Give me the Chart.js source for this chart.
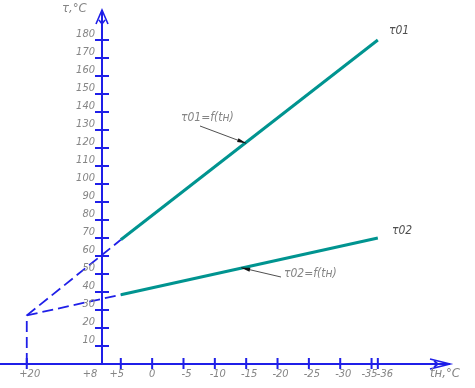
<!DOCTYPE html>
<html>
<head>
<meta charset="utf-8">
<script src="https://cdn.jsdelivr.net/npm/chart.js@4.4.1/dist/chart.umd.min.js"></script>
<style>
  html, body { margin: 0; padding: 0; background: #fff; }
  canvas { display: block; }
</style>
</head>
<body>
<canvas id="chart" width="475" height="388"></canvas>
<script>
// outdoor temperature tн, °C (points of the graph)
const tOut = [20, 5, -36];
// supply water temperature τ01 and return water τ02, °C
const tau01 = [27, 69, 180];
const tau02 = [27, 38.5, 70];
// break line at tн = +20
const breakT = [20, 20];
const breakTau = [0, 27];

// axis ticks
const xTicks = [20, 8, 5, 0, -5, -10, -15, -20, -25, -30, -35, -36];
const xLabels = ['+20', '+8', '+5', '0', '-5', '-10', '-15', '-20', '-25', '-30', '-35', '-36'];
const yTicks = [10, 20, 30, 40, 50, 60, 70, 80, 90, 100, 110, 120, 130, 140, 150, 160, 170, 180];

const BLUE = '#1f1fe8';
const TEAL = '#009490';
const GREY = '#858585';
const FONT = "italic 11px 'Liberation Sans Narrow', 'DejaVu Sans Condensed', 'Liberation Sans', sans-serif";

const pts = (xs, ys) => xs.map((x, i) => ({ x: x, y: ys[i] }));

const seg = {
  borderColor: ctx => ctx.p0DataIndex === 0 ? BLUE : TEAL,
  borderWidth: ctx => ctx.p0DataIndex === 0 ? 1.8 : 3,
  borderDash: ctx => ctx.p0DataIndex === 0 ? [11, 5] : []
};

const axesPlugin = {
  id: 'axes',
  afterDatasetsDraw(chart) {
    const c = chart.ctx;
    const xs = chart.scales.x, ys = chart.scales.y;
    const x0 = xs.getPixelForValue(8);
    const y0 = ys.getPixelForValue(0);
    c.save();
    c.strokeStyle = BLUE;
    c.lineWidth = 2;
    // axis lines
    c.beginPath();
    c.moveTo(0, y0); c.lineTo(450, y0);
    c.moveTo(x0, y0); c.lineTo(x0, 11);
    c.stroke();
    // arrow heads
    c.lineWidth = 1.6;
    c.beginPath();
    c.moveTo(x0 - 6, 24); c.lineTo(x0, 10); c.lineTo(x0 + 6, 24);
    c.moveTo(x0 - 3, 20); c.lineTo(x0, 24); c.lineTo(x0 + 3, 20);
    c.moveTo(430, y0 - 5); c.lineTo(450, y0); c.lineTo(430, y0 + 5);
    c.moveTo(434, y0 - 3); c.lineTo(438, y0); c.lineTo(434, y0 + 3);
    c.stroke();
    // ticks
    c.lineWidth = 2;
    c.beginPath();
    yTicks.forEach(v => {
      const y = ys.getPixelForValue(v);
      c.moveTo(x0 - 7, y); c.lineTo(x0 + 7, y);
    });
    xTicks.forEach(v => {
      if (v === 8) return;
      const x = xs.getPixelForValue(v);
      c.moveTo(x, y0 - 6); c.lineTo(x, y0 + 5);
    });
    c.stroke();

    // tick labels
    c.fillStyle = GREY;
    c.font = FONT;
    c.textBaseline = 'middle';
    c.textAlign = 'right';
    yTicks.forEach(v => {
      c.fillText(String(v), x0 - 7, ys.getPixelForValue(v) - 6);
    });
    xTicks.forEach((v, i) => {
      let x = xs.getPixelForValue(v);
      c.textAlign = 'center';
      if (v === 8) x -= 12;
      else if (v === 20) x += 3;
      else if (v === 5) x -= 4;
      else if (v === -35) { c.textAlign = 'right'; x += 6; }
      else if (v === -36) { c.textAlign = 'left'; x -= 1; }
      else if (v < 0) x += 3;
      c.fillText(xLabels[i], x, y0 + 10);
    });

    // axis titles
    c.font = "italic 13px 'Liberation Sans Narrow', 'DejaVu Sans Condensed', sans-serif";
    c.textAlign = 'left';
    c.fillText('τ,°C', 62, 9);
    c.fillText('tн,°C', 430, y0 + 10);

    // curve labels
    c.font = "italic 12px 'Liberation Sans Narrow', 'DejaVu Sans Condensed', sans-serif";
    c.fillStyle = '#505050';
    c.fillText('τ01', 389, 31);
    c.fillText('τ02', 392, 231);
    c.fillStyle = GREY;
    c.fillText('τ01=f(tн)', 181, 118);
    c.fillText('τ02=f(tн)', 284, 274);

    // leader arrows
    const leader = (fx, fy, tx, ty) => {
      c.strokeStyle = '#222';
      c.lineWidth = 0.8;
      c.beginPath(); c.moveTo(fx, fy); c.lineTo(tx, ty); c.stroke();
      const a = Math.atan2(ty - fy, tx - fx);
      c.fillStyle = '#111';
      c.beginPath();
      c.moveTo(tx, ty);
      c.lineTo(tx - 9 * Math.cos(a) + 2 * Math.sin(a), ty - 9 * Math.sin(a) - 2 * Math.cos(a));
      c.lineTo(tx - 9 * Math.cos(a) - 2 * Math.sin(a), ty - 9 * Math.sin(a) + 2 * Math.cos(a));
      c.closePath(); c.fill();
    };
    leader(200, 126, xs.getPixelForValue(-15), ys.getPixelForValue(122.6));
    leader(281, 277, xs.getPixelForValue(-14.2), ys.getPixelForValue(53.5));
    c.restore();
  }
};

new Chart(document.getElementById('chart'), {
  type: 'scatter',
  data: {
    datasets: [
      { data: pts(tOut, tau01), showLine: true, pointRadius: 0, segment: seg, borderColor: TEAL },
      { data: pts(tOut, tau02), showLine: true, pointRadius: 0, segment: seg, borderColor: TEAL },
      { data: pts(breakT, breakTau), showLine: true, pointRadius: 0, borderColor: BLUE, borderWidth: 1.8, borderDash: [11, 5] }
    ]
  },
  options: {
    responsive: false,
    animation: false,
    devicePixelRatio: 1,
    layout: { padding: 0 },
    plugins: { legend: { display: false }, tooltip: { enabled: false } },
    scales: {
      x: { type: 'linear', reverse: true, min: -51.5, max: 24.27, display: false },
      y: { type: 'linear', min: -13.33, max: 202.22, display: false }
    }
  },
  plugins: [axesPlugin]
});
</script>
</body>
</html>
